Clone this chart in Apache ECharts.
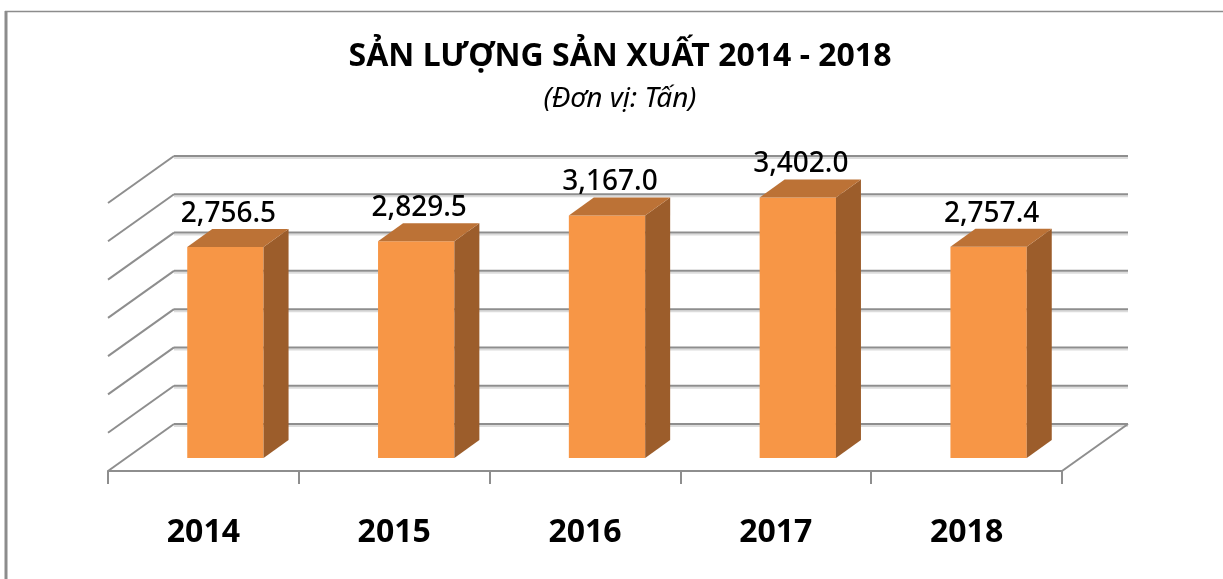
<!DOCTYPE html>
<html>
<head>
<meta charset="utf-8">
<title>Sản lượng sản xuất 2014 - 2018</title>
<script src="https://cdn.jsdelivr.net/npm/echarts@6/dist/echarts.min.js"></script>
<style>
  html, body { margin: 0; padding: 0; background: #fff; }
  #chart { width: 1223px; height: 579px; }
</style>
</head>
<body>
<div id="chart"></div>
<script>
// du lieu bieu do
var years = ['2014', '2015', '2016', '2017', '2018'];
var outputs = [2756.5, 2829.5, 3167.0, 3402.0, 2757.4];
var yTicks = [0, 500, 1000, 1500, 2000, 2500, 3000, 3500];

var FONT = "'Noto Sans', 'Open Sans', sans-serif";
var DEPTH = [66, -47];      // do sau san (mat truoc -> tuong sau)
var BAR_OFF = [22, -13];    // mat truoc cot so voi mat phang truoc
var BAR_DEPTH = [25, -18];  // chieu sau cot
var GRID_COLOR = '#8e8e8e';

function pt(p, d) {
	return [p[0] + d[0], p[1] + d[1]];
}

var chart = echarts.init(document.getElementById('chart'));

var option = {
	animation: false,
	backgroundColor: '#fff',
	title: {
		text: 'SẢN LƯỢNG SẢN XUẤT 2014 - 2018',
		subtext: '(Đơn vị: Tấn)',
		left: 615,
		textAlign: 'center',
		top: 36,
		itemGap: 12,
		textStyle: {
			fontFamily: FONT,
			fontSize: 32,
			fontWeight: 'bold',
			color: '#000'
		},
		subtextStyle: {
			fontFamily: FONT,
			fontSize: 28,
			fontStyle: 'italic',
			color: '#000'
		}
	},
	graphic: [{
		type: 'line',
		shape: { x1: 6, y1: 11, x2: 6, y2: 579 },
		style: { stroke: '#8c8c8c', lineWidth: 3 }
	}, {
		type: 'line',
		shape: { x1: 5, y1: 11.5, x2: 1223, y2: 11.5 },
		style: { stroke: '#8c8c8c', lineWidth: 1.5 }
	}],
	grid: {
		left: 108,
		right: 161,
		top: 203,
		bottom: 108,
		containLabel: false
	},
	xAxis: {
		type: 'category',
		data: years,
		axisLine: { show: true, lineStyle: { color: GRID_COLOR, width: 2 } },
		axisTick: { show: true, length: 13, lineStyle: { color: GRID_COLOR, width: 2 } },
		axisLabel: {
			margin: 46,
			fontFamily: FONT,
			fontSize: 32,
			fontWeight: 'bold',
			color: '#000'
		},
		splitLine: { show: false }
	},
	yAxis: {
		type: 'value',
		min: 0,
		max: 3500,
		interval: 500,
		show: false
	},
	series: [{
		// luoi: duong cheo ben trai + duong ngang tuong sau
		type: 'custom',
		z: 1,
		data: yTicks.map(function (v) { return [0, v]; }),
		renderItem: function (params, api) {
			var v = api.value(1);
			var bw = api.size([1, 0])[0];
			var a = api.coord([0, v]);
			var b = api.coord([years.length - 1, v]);
			var fl = [a[0] - bw / 2, a[1]];
			var fr = [b[0] + bw / 2, b[1]];
			var bl = pt(fl, DEPTH);
			var br = pt(fr, DEPTH);
			var children = [{
				type: 'line',
				shape: { x1: bl[0], y1: bl[1] + 2, x2: br[0], y2: br[1] + 2 },
				style: { stroke: '#dcdcdc', lineWidth: 2 }
			}, {
				type: 'line',
				shape: { x1: bl[0], y1: bl[1], x2: br[0], y2: br[1] },
				style: { stroke: GRID_COLOR, lineWidth: 2 }
			}, {
				type: 'line',
				shape: { x1: fl[0], y1: fl[1], x2: bl[0], y2: bl[1] },
				style: { stroke: GRID_COLOR, lineWidth: 2 }
			}];
			if (v === 0) {
				children.push({
					type: 'line',
					shape: { x1: fr[0], y1: fr[1], x2: br[0], y2: br[1] },
					style: { stroke: GRID_COLOR, lineWidth: 2 }
				});
			}
			return { type: 'group', children: children };
		}
	}, {
		// cot 3D
		type: 'custom',
		z: 3,
		data: outputs.map(function (v, i) { return [i, v]; }),
		renderItem: function (params, api) {
			var i = api.value(0);
			var v = api.value(1);
			var bw = api.size([1, 0])[0] * 0.4;
			var base = api.coord([i, 0]);
			var top = api.coord([i, v]);
			var x0 = base[0] - bw / 2 + BAR_OFF[0];
			var x1 = base[0] + bw / 2 + BAR_OFF[0];
			var yb = base[1] + BAR_OFF[1];
			var yt = top[1] + BAR_OFF[1];
			var ftl = [x0, yt], ftr = [x1, yt], fbr = [x1, yb];
			var btl = pt(ftl, BAR_DEPTH), btr = pt(ftr, BAR_DEPTH), bbr = pt(fbr, BAR_DEPTH);
			return {
				type: 'group',
				children: [{
					type: 'rect',
					shape: { x: x0, y: yt, width: bw, height: yb - yt },
					style: { fill: '#F79646' }
				}, {
					type: 'polygon',
					shape: { points: [ftr, btr, bbr, fbr] },
					style: { fill: '#9C5D2B' }
				}, {
					type: 'polygon',
					shape: { points: [ftl, ftr, btr, btl] },
					style: { fill: '#BC7236' }
				}, {
					type: 'text',
					style: {
						text: echarts.format.addCommas(v.toFixed(1)),
						x: (x0 + x1) / 2 + 3,
						y: btl[1] - 1,
						align: 'center',
						verticalAlign: 'bottom',
						font: '500 28px ' + FONT,
						fill: '#000'
					}
				}]
			};
		}
	}]
};

chart.setOption(option);
</script>
</body>
</html>
